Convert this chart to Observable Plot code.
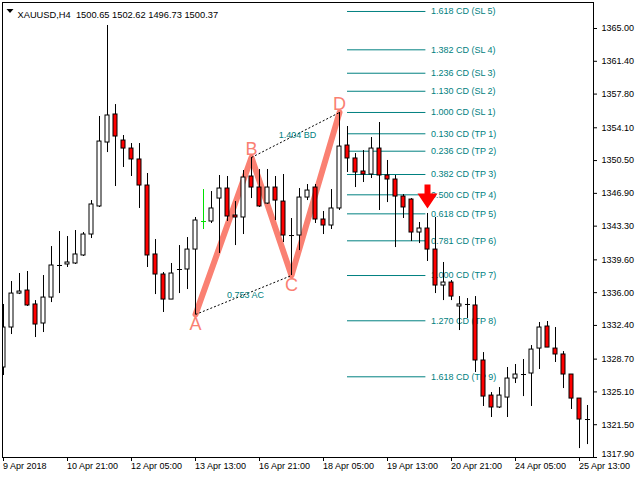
<!DOCTYPE html>
<html><head><meta charset="utf-8">
<script src="https://cdn.jsdelivr.net/npm/d3@7"></script>
<script src="https://cdn.jsdelivr.net/npm/@observablehq/plot@0.6"></script>
<style>html,body{margin:0;padding:0;background:#fff;} #chart svg{display:block;}</style>
</head><body><div id="chart"></div>
<script>
// ---- data ----
const symbolTitle = "XAUUSD,H4  1500.65 1502.62 1496.73 1500.37";

const open = [1327.78,1332.17,1335.90,1336.23,1334.70,1332.61,1335.46,1338.98,1339.09,1339.20,
1340.08,1342.38,1345.46,1352.48,1355.56,1352.70,1351.82,1350.62,1347.76,1340.19,
1337.99,1335.24,1338.54,1338.54,1340.73,1343.81,1343.81,1346.33,1347.43,1344.47,
1344.25,1348.75,1347.54,1345.78,1347.54,1346.00,1342.27,1342.27,1346.44,1347.54,
1344.03,1343.37,1345.24,1352.15,1350.73,1349.30,1348.97,1351.82,1348.86,1348.42,
1346.55,1346.22,1342.60,1343.04,1340.73,1336.78,1337.11,1334.48,1334.70,1334.59,
1328.55,1324.70,1323.39,1324.48,1326.57,1327.01,1327.12,1329.86,1332.28,1329.86,
1329.21,1327.01,1324.37,1322.07];
const high = [1334.70,1337.22,1338.10,1338.32,1335.13,1337.88,1341.06,1342.71,1342.16,1342.82,
1342.60,1346.11,1355.34,1365.33,1356.65,1353.25,1352.37,1352.37,1349.08,1341.83,
1338.21,1339.20,1341.17,1342.05,1344.25,1347.32,1347.10,1348.86,1348.75,1346.00,
1349.41,1350.84,1349.52,1349.52,1348.75,1348.97,1344.14,1347.43,1347.87,1347.87,
1344.91,1347.32,1355.78,1354.24,1351.27,1351.60,1353.03,1354.68,1350.51,1348.86,
1346.77,1346.33,1343.70,1344.69,1344.25,1339.31,1337.33,1335.57,1335.35,1335.57,
1329.42,1325.03,1325.58,1327.78,1328.11,1328.66,1330.19,1332.72,1332.83,1332.17,
1329.53,1327.01,1324.37,1323.61];
const low = [1326.90,1331.40,1335.79,1334.48,1331.07,1331.62,1334.91,1335.90,1338.76,1339.09,
1339.97,1341.94,1345.35,1351.38,1347.65,1349.74,1348.75,1345.24,1338.76,1335.79,
1333.82,1335.24,1335.90,1336.34,1333.60,1342.93,1343.59,1340.30,1343.81,1341.17,
1342.38,1346.33,1345.35,1345.68,1343.92,1341.50,1337.88,1340.62,1346.11,1343.59,
1342.38,1342.93,1345.02,1349.19,1347.54,1348.09,1348.53,1345.02,1345.89,1340.95,
1344.14,1341.61,1341.39,1339.42,1335.90,1335.13,1335.13,1331.84,1333.16,1327.23,
1323.50,1322.29,1323.28,1322.29,1326.02,1324.59,1323.50,1327.56,1329.97,1328.33,
1325.47,1323.17,1318.88,1319.32];
const close = [1332.17,1335.90,1336.12,1334.59,1332.50,1335.46,1338.98,1338.98,1339.31,1340.19,
1342.38,1345.68,1352.59,1355.45,1353.14,1351.82,1350.62,1347.76,1340.08,1337.99,
1335.24,1338.10,1338.54,1340.73,1343.92,1343.81,1345.24,1347.43,1344.36,1344.25,
1348.64,1347.54,1345.46,1347.54,1346.11,1342.27,1342.27,1346.44,1347.21,1344.03,
1343.37,1345.24,1352.04,1350.73,1349.19,1348.97,1351.82,1348.86,1348.42,1346.55,
1345.35,1342.60,1343.04,1340.73,1336.78,1337.11,1335.57,1334.70,1334.70,1328.55,
1324.59,1323.39,1324.70,1326.57,1327.01,1327.01,1329.75,1332.17,1329.97,1329.21,
1327.01,1324.37,1322.07,1322.07];
const greenBar = 25;

const xTickIndex = [0, 8, 16, 24, 32, 40, 48, 56, 64, 72];
const xTickLabels = ["9 Apr 2018","10 Apr 21:00","12 Apr 05:00","13 Apr 13:00","16 Apr 21:00",
  "18 Apr 05:00","19 Apr 13:00","20 Apr 21:00","24 Apr 05:00","25 Apr 13:00"];
const yTicks = [1365.00,1361.40,1357.80,1354.10,1350.50,1346.90,1343.30,1339.60,1336.00,1332.40,1328.70,1325.10,1321.50,1317.90];
const xDomain = [-0.125, 73.75];
const yDomain = [1317.90, 1367.855];

const patternNames = ["A","B","C","D"];
const patternIndex = [24, 31, 36, 42];
const patternPrice = [1333.60, 1350.84, 1337.88, 1355.78];
const ratioLabels = ["0.753 AC", "1.404 BD"];

const levelLabels = ["1.618 CD (SL 5)","1.382 CD (SL 4)","1.236 CD (SL 3)","1.130 CD (SL 2)","1.000 CD (SL 1)",
  "0.130 CD (TP 1)","0.236 CD (TP 2)","0.382 CD (TP 3)","0.500 CD (TP 4)","0.618 CD (TP 5)",
  "0.781 CD (TP 6)","1.000 CD (TP 7)","1.270 CD (TP 8)","1.618 CD (TP 9)"];
const levelPrices = [1366.87,1362.66,1360.09,1358.11,1355.78,1353.44,1351.53,1348.97,1346.74,1344.65,
  1341.69,1337.88,1332.91,1326.76];
const levelStart = 43, levelEnd = 52.8;

const signalBar = 53, signalPrice = 1346.55;

// ---- build tables ----
const bars = open.map((o, i) => ({i, open: o, high: high[i], low: low[i], close: close[i]}));
const bodies = bars.filter(d => d.open !== d.close);
const dojis = bars.filter(d => d.open === d.close);
const pts = patternNames.map((n, k) => ({name: n, i: patternIndex[k], p: patternPrice[k]}));
const levels = levelLabels.map((t, k) => ({t, p: levelPrices[k]}));
const diag = [
  {a: pts[0], b: pts[2], label: ratioLabels[0]},
  {a: pts[1], b: pts[3], label: ratioLabels[1]}
];
const yTop = yTicks.slice(0, -1), yBottom = yTicks.slice(-1);

const TEAL = "#008080", SALMON = "#FA8072", RED = "#FF0000", GREEN = "#00E000";
const colorOf = d => d.i === greenBar ? GREEN : "black";
const fmt = d => d.toFixed(2);

const arrowSymbol = {
  draw(ctx) {
    ctx.moveTo(-3, -12); ctx.lineTo(3, -12); ctx.lineTo(3, -3); ctx.lineTo(10, -3);
    ctx.lineTo(0, 12); ctx.lineTo(-10, -3); ctx.lineTo(-3, -3); ctx.closePath();
  }
};
const titleTriangle = {
  draw(ctx) { ctx.moveTo(-3.5, -2); ctx.lineTo(3.5, -2); ctx.lineTo(0, 2); ctx.closePath(); }
};

const chart = Plot.plot({
  width: 640, height: 480,
  marginLeft: 2, marginRight: 47, marginTop: 2, marginBottom: 23,
  style: {fontFamily: "'Liberation Sans', Arial, sans-serif", fontSize: "9px", background: "white", color: "black"},
  x: {type: "linear", domain: xDomain, axis: null},
  y: {domain: yDomain, axis: null},
  marks: [
    // fib levels
    Plot.ruleY(levels, {y: "p", x1: levelStart, x2: levelEnd, stroke: TEAL}),
    Plot.text(levels, {x: levelEnd, y: "p", text: "t", dx: 5, textAnchor: "start", fill: TEAL, fontSize: 9}),
    // pattern
    Plot.line(pts, {x: "i", y: "p", stroke: SALMON, strokeWidth: 6, strokeLinejoin: "round"}),
    Plot.link(diag, {x1: d => d.a.i, y1: d => d.a.p, x2: d => d.b.i, y2: d => d.b.p, stroke: "black", strokeWidth: 1, strokeDasharray: "2,2"}),
    Plot.text(diag, {x: d => (d.a.i + d.b.i) / 2, y: d => (d.a.p + d.b.p) / 2, text: "label", fill: TEAL, fontSize: 9, dx: 2}),
    Plot.text(pts.filter((d, k) => k % 2 === 0), {x: "i", y: "p", text: "name", fill: SALMON, fontSize: 18, lineAnchor: "top", dy: 3}),
    Plot.text(pts.filter((d, k) => k % 2 === 1), {x: "i", y: "p", text: "name", fill: SALMON, fontSize: 18, lineAnchor: "bottom", dy: -2}),
    // candles
    Plot.ruleX(bars, {x: "i", y1: "low", y2: "high", stroke: colorOf, clip: true}),
    Plot.rect(bodies, {x1: d => d.i - 0.25, x2: d => d.i + 0.25, y1: "open", y2: "close",
      fill: d => d.close > d.open ? "white" : RED, stroke: "black", clip: true}),
    Plot.ruleY(dojis, {x1: d => d.i - 0.25, x2: d => d.i + 0.375, y: "close", stroke: colorOf, clip: true}),
    // signal arrow
    Plot.dot([{i: signalBar, p: signalPrice}], {x: "i", y: "p", symbol: arrowSymbol, fill: RED, stroke: "none"}),
    Plot.frame({stroke: "black"}),
    // y axis (right)
    Plot.ruleY(yTicks, {y: d => d, x1: xDomain[1], x2: xDomain[1], insetRight: -4, stroke: "black"}),
    Plot.text(yTop, {y: d => d, text: fmt, frameAnchor: "right", dx: 8, textAnchor: "start", fill: "black", fontSize: 9}),
    Plot.text(yBottom, {y: d => d, text: fmt, frameAnchor: "right", dx: 8, dy: -3.5, textAnchor: "start", fill: "black", fontSize: 9}),
    // x axis
    Plot.ruleX(xTickIndex, {x: d => d, y1: yDomain[0], y2: yDomain[0], insetBottom: -4, stroke: "black"}),
    Plot.text(xTickIndex, {x: d => d, text: (d, k) => xTickLabels[k], frameAnchor: "bottom", dy: 11.5, dx: -0.5, textAnchor: "start", fill: "black", fontSize: 9}),
    // header
    Plot.dot([0], {frameAnchor: "top-left", dx: 7.5, dy: 8.5, symbol: titleTriangle, fill: "black", stroke: "none"}),
    Plot.text([symbolTitle], {frameAnchor: "top-left", dx: 15, dy: 8.5, text: d => d, textAnchor: "start", fill: "black", fontSize: 9.3})
  ]
});
document.getElementById("chart").appendChild(chart);
</script>
</body></html>
